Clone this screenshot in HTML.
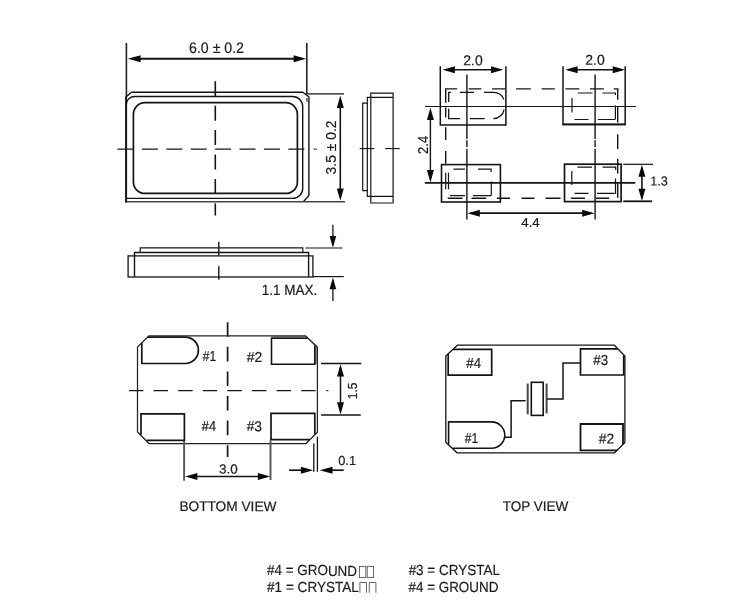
<!DOCTYPE html>
<html lang="en"><head><meta charset="utf-8"><title>Crystal package outline drawing</title>
<style>
html,body{margin:0;padding:0;background:#fff;}
body{width:749px;height:610px;overflow:hidden;}
svg{display:block;font-family:"Liberation Sans",sans-serif;filter:grayscale(1);}
</style></head>
<body>
<svg width="749" height="610" viewBox="0 0 749 610">
<rect x="0" y="0" width="749" height="610" fill="#ffffff"/>
<path d="M131.4,92.3 H302.7 L308.9,96.8 V195.4 L303.4,201.7" fill="none" stroke="#141414" stroke-width="1.4" stroke-linejoin="miter"/>
<line x1="125.2" y1="201.8" x2="345" y2="201.8" stroke="#444" stroke-width="1.5" stroke-linecap="butt"/>
<line x1="126.1" y1="96.2" x2="126.1" y2="202.4" stroke="#141414" stroke-width="2.0" stroke-linecap="butt"/>
<path d="M126.3,96.6 L131.4,92.3" fill="none" stroke="#141414" stroke-width="1.4" stroke-linejoin="miter"/>
<path d="M126.3,104 A8.4,7.5 0 0 1 134.7,96.5 H292.7 A10,10 0 0 1 302.7,106.5 V188.4 A10,10 0 0 1 292.7,198.4 H126.3" fill="none" stroke="#141414" stroke-width="1.4" stroke-linejoin="miter"/>
<rect x="133.4" y="102.7" width="164" height="90.7" rx="11.5" ry="11.5" fill="none" stroke="#141414" stroke-width="1.7"/>
<rect x="306" y="98" width="2.2" height="3.6" fill="#777"/>
<line x1="117.5" y1="149.2" x2="304.5" y2="149.2" stroke="#141414" stroke-width="1.3" stroke-dasharray="16 8.4" stroke-dashoffset="0" stroke-linecap="butt"/>
<line x1="313.6" y1="149.2" x2="317" y2="149.2" stroke="#444" stroke-width="1.2" stroke-linecap="butt"/>
<line x1="215.3" y1="81.3" x2="215.3" y2="215.5" stroke="#141414" stroke-width="1.6" stroke-dasharray="15 9.4" stroke-dashoffset="0" stroke-linecap="butt"/>
<line x1="126.4" y1="43" x2="126.4" y2="96" stroke="#222" stroke-width="1.6" stroke-linecap="butt"/>
<line x1="306.8" y1="43" x2="306.8" y2="94" stroke="#222" stroke-width="1.6" stroke-linecap="butt"/>
<line x1="132" y1="58.8" x2="301" y2="58.8" stroke="#141414" stroke-width="1.9" stroke-linecap="butt"/>
<polygon points="127.8,58.7 140.6,55.2 140.6,62.2" fill="#0a0a0a"/>
<polygon points="306.2,58.7 293.6,62.2 293.6,55.2" fill="#0a0a0a"/>
<line x1="306.8" y1="93.8" x2="344" y2="93.8" stroke="#141414" stroke-width="1.3" stroke-linecap="butt"/>
<line x1="340.3" y1="100" x2="340.3" y2="197" stroke="#141414" stroke-width="1.6" stroke-linecap="butt"/>
<polygon points="340.3,95.6 343.8,107.9 336.8,107.9" fill="#0a0a0a"/>
<polygon points="340.3,200.8 336.8,188.5 343.8,188.5" fill="#0a0a0a"/>
<path d="M370.8,203 V93.1 H393.1 V203" fill="none" stroke="#141414" stroke-width="1.2" stroke-linejoin="miter"/>
<line x1="370.2" y1="203" x2="393.7" y2="203" stroke="#555" stroke-width="1.4" stroke-linecap="butt"/>
<path d="M393.1,97.4 H367.3 V196.3 H393.1" fill="none" stroke="#141414" stroke-width="1.2" stroke-linejoin="miter"/>
<path d="M367.3,103.1 H362.7 V190.7 H367.3" fill="none" stroke="#141414" stroke-width="1.2" stroke-linejoin="miter"/>
<line x1="359.7" y1="148.6" x2="374.4" y2="148.6" stroke="#141414" stroke-width="1.1" stroke-linecap="butt"/>
<line x1="385.1" y1="148.6" x2="399.8" y2="148.6" stroke="#141414" stroke-width="1.1" stroke-linecap="butt"/>
<path d="M440.3,66.2 V124.9 H505.9 V66.2" fill="none" stroke="#141414" stroke-width="1.5" stroke-linejoin="miter"/>
<path d="M563,66.2 V124.4 H625.2 V66.2" fill="none" stroke="#141414" stroke-width="1.5" stroke-linejoin="miter"/>
<line x1="562.3" y1="124.4" x2="625.9" y2="124.4" stroke="#141414" stroke-width="1.9" stroke-linecap="butt"/>
<rect x="441.5" y="164.6" width="58.9" height="37.4" fill="none" stroke="#141414" stroke-width="1.6"/>
<rect x="564.5" y="164.2" width="56.6" height="37.4" fill="none" stroke="#141414" stroke-width="1.7"/>
<line x1="446" y1="69.7" x2="500" y2="69.7" stroke="#141414" stroke-width="1.5" stroke-linecap="butt"/>
<polygon points="442.6,69.7 454.9,66.2 454.9,73.2" fill="#0a0a0a"/>
<polygon points="503.3,69.7 491.0,73.2 491.0,66.2" fill="#0a0a0a"/>
<line x1="568" y1="69.7" x2="622" y2="69.7" stroke="#141414" stroke-width="1.5" stroke-linecap="butt"/>
<polygon points="565.3,69.7 577.6,66.2 577.6,73.2" fill="#0a0a0a"/>
<polygon points="625,69.7 612.7,73.2 612.7,66.2" fill="#0a0a0a"/>
<path d="M466.9,74.4 V139.1 M466.9,140.3 V147.1 M466.9,148.7 V219.5" fill="none" stroke="#141414" stroke-width="1.4" stroke-linejoin="miter"/>
<path d="M595.1,74.4 V139.1 M595.1,140.3 V147.1 M595.1,148.7 V219.5" fill="none" stroke="#141414" stroke-width="1.4" stroke-linejoin="miter"/>
<line x1="425.1" y1="106.5" x2="635.9" y2="106.5" stroke="#141414" stroke-width="1.1" stroke-linecap="butt"/>
<line x1="424.8" y1="182.8" x2="635.3" y2="182.8" stroke="#141414" stroke-width="1.7" stroke-linecap="butt"/>
<line x1="430.4" y1="112" x2="430.4" y2="178" stroke="#141414" stroke-width="1.4" stroke-linecap="butt"/>
<polygon points="430.4,107.8 433.9,120.1 426.9,120.1" fill="#0a0a0a"/>
<polygon points="430.4,182.4 426.9,170.1 433.9,170.1" fill="#0a0a0a"/>
<line x1="471" y1="213.2" x2="591" y2="213.2" stroke="#141414" stroke-width="1.7" stroke-linecap="butt"/>
<polygon points="467.5,213.3 479.8,209.8 479.8,216.8" fill="#0a0a0a"/>
<polygon points="594.5,213.3 582.2,216.8 582.2,209.8" fill="#0a0a0a"/>
<line x1="623.2" y1="164.3" x2="653" y2="164.3" stroke="#141414" stroke-width="1.2" stroke-linecap="butt"/>
<line x1="623.2" y1="201.3" x2="652" y2="201.3" stroke="#141414" stroke-width="1.8" stroke-linecap="butt"/>
<line x1="641.9" y1="170" x2="641.9" y2="196" stroke="#141414" stroke-width="1.6" stroke-linecap="butt"/>
<polygon points="641.9,164.7 645.4,176.7 638.4,176.7" fill="#0a0a0a"/>
<polygon points="641.9,201.1 638.4,188.8 645.4,188.8" fill="#0a0a0a"/>
<path d="M445.1,88.9 H457.1 M468.7,88.9 H481.4 M492.1,88.9 H505.4 M516.1,88.9 H530.8 M541.6,88.9 H554.8 M565.4,88.9 H579.3 M590,88.9 H603.9 M613.8,88.9 H618.4" fill="none" stroke="#141414" stroke-width="1.4" stroke-linejoin="miter"/>
<path d="M445.7,88.9 V102.7 M445.7,107.6 V117.5 M445.7,127.3 V140.1 M445.7,150.9 V163.7" fill="none" stroke="#141414" stroke-width="1.4" stroke-linejoin="miter"/>
<path d="M617.7,88.9 V99.7 M617.7,106.6 V122.4 M617.7,134.2 V149 M617.7,158.8 V173.6 M617.7,182.7 V197.7" fill="none" stroke="#141414" stroke-width="1.4" stroke-linejoin="miter"/>
<path d="M447.7,198.2 H462.5 M471.5,198.2 H486.2 M496.9,198.2 H510 M521.5,198.2 H534.5 M545.6,198.2 H560.6 M570.8,198.2 H584.9 M596,198.2 H609.2" fill="none" stroke="#141414" stroke-width="1.4" stroke-linejoin="miter"/>
<path d="M448.7,92.4 V102 M448.7,108.7 V118.7" fill="none" stroke="#141414" stroke-width="1.3" stroke-linejoin="miter"/>
<path d="M448.1,92.4 H451 M459.8,92.4 H474" fill="none" stroke="#141414" stroke-width="1.3" stroke-linejoin="miter"/>
<path d="M484,92.4 H493.5 A11,11 0 0 1 503.9,99.6" fill="none" stroke="#141414" stroke-width="1.3" stroke-linejoin="miter"/>
<path d="M448.1,118.7 H460 M470,118.7 H484.7" fill="none" stroke="#141414" stroke-width="1.3" stroke-linejoin="miter"/>
<path d="M493.4,118.7 A11,11 0 0 0 504.1,109.6" fill="none" stroke="#141414" stroke-width="1.3" stroke-linejoin="miter"/>
<path d="M572,98 V112.5 M574.5,119.5 H588.5 M598,119.5 H615 M615.4,119.5 V105.5 M615.4,95 V93 H602.5 M592.5,93 H577.7" fill="none" stroke="#141414" stroke-width="1.2" stroke-linejoin="miter"/>
<path d="M453.5,169.2 H465 M478,169.2 H491.1 V172 M491.3,181.6 V195.7 M445.7,172.8 V189.2 M448.5,172.8 V189.2 M450,195.7 H465 M473,195.7 H491" fill="none" stroke="#141414" stroke-width="1.2" stroke-linejoin="miter"/>
<path d="M577.5,167.1 H592 M602.5,167.1 H615.7 V170 M571.8,171 V185 M615.5,178.5 V194 M574.5,193.3 H588.5 M597,193.3 H614.5" fill="none" stroke="#141414" stroke-width="1.2" stroke-linejoin="miter"/>
<path d="M140.2,252.5 V247.9 H302.8 V252.5" fill="none" stroke="#141414" stroke-width="1.2" stroke-linejoin="miter"/>
<path d="M134.5,277 V252.5 H308.6 V277" fill="none" stroke="#141414" stroke-width="1.4" stroke-linejoin="miter"/>
<rect x="128.1" y="255.9" width="184.8" height="21.1" fill="none" stroke="#141414" stroke-width="1.3"/>
<line x1="218.8" y1="241.8" x2="218.8" y2="255.4" stroke="#141414" stroke-width="1.4" stroke-linecap="butt"/>
<line x1="218.8" y1="266.3" x2="218.8" y2="279.8" stroke="#141414" stroke-width="1.4" stroke-linecap="butt"/>
<line x1="305.4" y1="248" x2="342.5" y2="248" stroke="#141414" stroke-width="1.2" stroke-linecap="butt"/>
<line x1="312.9" y1="276.6" x2="343.8" y2="276.6" stroke="#141414" stroke-width="1.2" stroke-linecap="butt"/>
<line x1="332.9" y1="224.8" x2="332.9" y2="240" stroke="#141414" stroke-width="1.3" stroke-linecap="butt"/>
<polygon points="332.9,247.7 329.55,235.9 336.25,235.9" fill="#0a0a0a"/>
<line x1="332.9" y1="300.9" x2="332.9" y2="286" stroke="#141414" stroke-width="1.3" stroke-linecap="butt"/>
<polygon points="332.9,277.4 336.25,289.2 329.55,289.2" fill="#0a0a0a"/>
<path d="M271.4,336 H306 L317,346.8 V364 H315 V346.5 L307,338.4 H271.4 Z" fill="#9a9a9a"/>
<path d="M149,335.8 H305.6 L317.4,347 V432.2 L305.9,443.5 H149 L137.5,431.9 V347 Z" fill="none" stroke="#222" stroke-width="1.25" stroke-linejoin="miter"/>
<path d="M147.6,337.1 H185.2 A13.2,13.2 0 0 1 185.2,363.5 H141.8 V342.8" fill="none" stroke="#141414" stroke-width="1.7" stroke-linejoin="miter"/>
<path d="M307.5,338.3 H271.5 V364.2 H314.8 V345.5" fill="none" stroke="#141414" stroke-width="1.6" stroke-linejoin="miter"/>
<path d="M141,434.8 V413.9 H184.4 V440.3 H146.6" fill="none" stroke="#141414" stroke-width="1.7" stroke-linejoin="miter"/>
<path d="M314.8,434.6 V413.4 H271 V439.7 H309.6" fill="none" stroke="#141414" stroke-width="1.7" stroke-linejoin="miter"/>
<line x1="129" y1="390.6" x2="317.4" y2="390.6" stroke="#141414" stroke-width="1.3" stroke-dasharray="14.4 10.2" stroke-dashoffset="0" stroke-linecap="butt"/>
<line x1="325.8" y1="390.6" x2="328.4" y2="390.6" stroke="#444" stroke-width="1.2" stroke-linecap="butt"/>
<line x1="227.6" y1="322.2" x2="227.6" y2="457" stroke="#141414" stroke-width="1.7" stroke-dasharray="14.6 10" stroke-dashoffset="0" stroke-linecap="butt"/>
<line x1="321.1" y1="363.5" x2="361.2" y2="363.5" stroke="#141414" stroke-width="1.4" stroke-linecap="butt"/>
<line x1="321.1" y1="415" x2="360.7" y2="415" stroke="#141414" stroke-width="1.3" stroke-linecap="butt"/>
<line x1="340.5" y1="368" x2="340.5" y2="410" stroke="#141414" stroke-width="1.5" stroke-linecap="butt"/>
<polygon points="340.5,364.2 344.0,376.5 337.0,376.5" fill="#0a0a0a"/>
<polygon points="340.5,414.5 337.0,402.2 344.0,402.2" fill="#0a0a0a"/>
<line x1="184.1" y1="441" x2="184.1" y2="480.7" stroke="#555" stroke-width="1.9" stroke-linecap="butt"/>
<line x1="270.5" y1="440.2" x2="270.5" y2="480" stroke="#555" stroke-width="1.9" stroke-linecap="butt"/>
<line x1="189" y1="476.4" x2="266" y2="476.4" stroke="#141414" stroke-width="1.5" stroke-linecap="butt"/>
<polygon points="185.1,476.5 197.4,473.0 197.4,480.0" fill="#0a0a0a"/>
<polygon points="270.2,476.5 257.9,480.0 257.9,473.0" fill="#0a0a0a"/>
<line x1="313.8" y1="443.5" x2="313.8" y2="471.8" stroke="#141414" stroke-width="1.3" stroke-linecap="butt"/>
<line x1="317.4" y1="436.7" x2="317.4" y2="471.8" stroke="#141414" stroke-width="1.3" stroke-linecap="butt"/>
<line x1="289.1" y1="470.2" x2="302" y2="470.2" stroke="#141414" stroke-width="1.7" stroke-linecap="butt"/>
<polygon points="313.2,470.2 300.9,473.7 300.9,466.7" fill="#0a0a0a"/>
<line x1="330" y1="470.2" x2="343.7" y2="470.2" stroke="#141414" stroke-width="1.7" stroke-linecap="butt"/>
<polygon points="319.6,470.2 332.5,466.7 332.5,473.7" fill="#0a0a0a"/>
<path d="M457.4,345.2 H614.3 L624.9,356 V442.4 L614.6,452.8 H457 L445.8,442.1 V356 Z" fill="none" stroke="#141414" stroke-width="1.3" stroke-linejoin="miter"/>
<path d="M453,349.3 H491.7 V375.2 H448.2 V353.8" fill="none" stroke="#141414" stroke-width="1.7" stroke-linejoin="miter"/>
<path d="M448.6,444.5 V421.9 H491.6 A13.2,13.2 0 0 1 491.6,448.3 H452.6" fill="none" stroke="#141414" stroke-width="1.6" stroke-linejoin="miter"/>
<path d="M617.6,348.9 H580.5 V375 H623.7 V355.3" fill="none" stroke="#141414" stroke-width="1.7" stroke-linejoin="miter"/>
<path d="M623,444.3 V424 H580.5 V450.3 H617" fill="none" stroke="#141414" stroke-width="1.8" stroke-linejoin="miter"/>
<path d="M504.7,437.3 H511.1 V400.7 H525.6" fill="none" stroke="#141414" stroke-width="1.5" stroke-linejoin="miter"/>
<path d="M546.6,399 H563 V363.1 H580.5" fill="none" stroke="#141414" stroke-width="1.5" stroke-linejoin="miter"/>
<line x1="527.7" y1="383.6" x2="527.7" y2="414.3" stroke="#444" stroke-width="2.0" stroke-linecap="butt"/>
<line x1="546.6" y1="383.6" x2="546.6" y2="413.5" stroke="#444" stroke-width="2.0" stroke-linecap="butt"/>
<rect x="531.3" y="382.3" width="11.9" height="33.1" fill="none" stroke="#141414" stroke-width="1.6"/>
<rect x="359.4" y="566.4" width="6.4" height="11" fill="none" stroke="#555" stroke-width="0.9"/>
<rect x="367.2" y="566.4" width="6.4" height="11" fill="none" stroke="#555" stroke-width="0.9"/>
<path d="M359.9,592.7 V582.5 H366.5 V592.7" fill="none" stroke="#555" stroke-width="0.9"/>
<path d="M369.3,592.7 V582.5 H375.90000000000003 V592.7" fill="none" stroke="#555" stroke-width="0.9"/>
<text x="189.05" y="53.07" font-size="15.2" text-anchor="start" fill="#1c1c1c" stroke="#1c1c1c" stroke-width="0.2" textLength="54.92" lengthAdjust="spacingAndGlyphs" transform="rotate(0.03 189.05 53.07)">6.0 ± 0.2</text>
<text x="336.19" y="174.39" font-size="15.2" text-anchor="start" fill="#1c1c1c" stroke="#1c1c1c" stroke-width="0.2" textLength="53.86" lengthAdjust="spacingAndGlyphs" transform="rotate(-90 336.19 174.39)">3.5 ± 0.2</text>
<text x="463.29" y="65.29" font-size="14.2" text-anchor="start" fill="#1c1c1c" stroke="#1c1c1c" stroke-width="0.2" textLength="19.43" lengthAdjust="spacingAndGlyphs" transform="rotate(0.03 463.29 65.29)">2.0</text>
<text x="585.26" y="64.68" font-size="14.2" text-anchor="start" fill="#1c1c1c" stroke="#1c1c1c" stroke-width="0.2" textLength="19.41" lengthAdjust="spacingAndGlyphs" transform="rotate(0.03 585.26 64.68)">2.0</text>
<text x="427.57" y="153.92" font-size="14.2" text-anchor="start" fill="#1c1c1c" stroke="#1c1c1c" stroke-width="0.2" textLength="18.11" lengthAdjust="spacingAndGlyphs" transform="rotate(-90 427.57 153.92)">2.4</text>
<text x="521.27" y="226.94" font-size="13.1" text-anchor="start" fill="#1c1c1c" stroke="#1c1c1c" stroke-width="0.2" textLength="18.51" lengthAdjust="spacingAndGlyphs" transform="rotate(0.03 521.27 226.94)">4.4</text>
<text x="650.21" y="185.53" font-size="13.1" text-anchor="start" fill="#1c1c1c" stroke="#1c1c1c" stroke-width="0.2" textLength="17.61" lengthAdjust="spacingAndGlyphs" transform="rotate(0.03 650.21 185.53)">1.3</text>
<text x="261.67" y="294.75" font-size="14.9" text-anchor="start" fill="#1c1c1c" stroke="#1c1c1c" stroke-width="0.2" textLength="55.51" lengthAdjust="spacingAndGlyphs" transform="rotate(0.03 261.67 294.75)">1.1 MAX.</text>
<text x="357.29" y="399.26" font-size="13.6" text-anchor="start" fill="#1c1c1c" stroke="#1c1c1c" stroke-width="0.2" textLength="16.69" lengthAdjust="spacingAndGlyphs" transform="rotate(-90 357.29 399.26)">1.5</text>
<text x="219.01" y="473.54" font-size="13.1" text-anchor="start" fill="#1c1c1c" stroke="#1c1c1c" stroke-width="0.2" textLength="18.75" lengthAdjust="spacingAndGlyphs" transform="rotate(0.03 219.01 473.54)">3.0</text>
<text x="338.23" y="465.1" font-size="13.1" text-anchor="start" fill="#1c1c1c" stroke="#1c1c1c" stroke-width="0.2" textLength="17.77" lengthAdjust="spacingAndGlyphs" transform="rotate(0.03 338.23 465.1)">0.1</text>
<text x="202.76" y="361.43" font-size="14.4" text-anchor="start" fill="#1c1c1c" stroke="#1c1c1c" stroke-width="0.2" textLength="13.34" lengthAdjust="spacingAndGlyphs" transform="rotate(0.03 202.76 361.43)">#1</text>
<text x="246.74" y="362.09" font-size="14.4" text-anchor="start" fill="#1c1c1c" stroke="#1c1c1c" stroke-width="0.2" textLength="15.69" lengthAdjust="spacingAndGlyphs" transform="rotate(0.03 246.74 362.09)">#2</text>
<text x="201.74" y="431.14" font-size="14.4" text-anchor="start" fill="#1c1c1c" stroke="#1c1c1c" stroke-width="0.2" textLength="14.31" lengthAdjust="spacingAndGlyphs" transform="rotate(0.03 201.74 431.14)">#4</text>
<text x="246.71" y="431.13" font-size="14.4" text-anchor="start" fill="#1c1c1c" stroke="#1c1c1c" stroke-width="0.2" textLength="15.34" lengthAdjust="spacingAndGlyphs" transform="rotate(0.03 246.71 431.13)">#3</text>
<text x="466.3" y="368.1" font-size="14.5" text-anchor="start" fill="#1c1c1c" stroke="#1c1c1c" stroke-width="0.2" textLength="14.79" lengthAdjust="spacingAndGlyphs" transform="rotate(0.03 466.3 368.1)">#4</text>
<text x="464.73" y="442.83" font-size="14.1" text-anchor="start" fill="#1c1c1c" stroke="#1c1c1c" stroke-width="0.2" textLength="13.51" lengthAdjust="spacingAndGlyphs" transform="rotate(0.03 464.73 442.83)">#1</text>
<text x="593.25" y="364.59" font-size="14.5" text-anchor="start" fill="#1c1c1c" stroke="#1c1c1c" stroke-width="0.2" textLength="14.78" lengthAdjust="spacingAndGlyphs" transform="rotate(0.03 593.25 364.59)">#3</text>
<text x="598.86" y="443.61" font-size="14.1" text-anchor="start" fill="#1c1c1c" stroke="#1c1c1c" stroke-width="0.2" textLength="15.36" lengthAdjust="spacingAndGlyphs" transform="rotate(0.03 598.86 443.61)">#2</text>
<text x="179.39" y="511.1" font-size="13.9" text-anchor="start" fill="#1c1c1c" stroke="#1c1c1c" stroke-width="0.2" textLength="97.05" lengthAdjust="spacingAndGlyphs" transform="rotate(0.03 179.39 511.1)">BOTTOM VIEW</text>
<text x="502.65" y="511.08" font-size="13.9" text-anchor="start" fill="#1c1c1c" stroke="#1c1c1c" stroke-width="0.2" textLength="65.66" lengthAdjust="spacingAndGlyphs" transform="rotate(0.03 502.65 511.08)">TOP VIEW</text>
<text x="267.09" y="575.48" font-size="14.6" text-anchor="start" fill="#1c1c1c" stroke="#1c1c1c" stroke-width="0.2" textLength="89.92" lengthAdjust="spacingAndGlyphs" transform="rotate(0.03 267.09 575.48)">#4 = GROUND</text>
<text x="267.08" y="592.22" font-size="14.6" text-anchor="start" fill="#1c1c1c" stroke="#1c1c1c" stroke-width="0.2" textLength="91.76" lengthAdjust="spacingAndGlyphs" transform="rotate(0.03 267.08 592.22)">#1 = CRYSTAL</text>
<text x="408.63" y="575.46" font-size="14.6" text-anchor="start" fill="#1c1c1c" stroke="#1c1c1c" stroke-width="0.2" textLength="91.25" lengthAdjust="spacingAndGlyphs" transform="rotate(0.03 408.63 575.46)">#3 = CRYSTAL</text>
<text x="408.61" y="591.79" font-size="14.6" text-anchor="start" fill="#1c1c1c" stroke="#1c1c1c" stroke-width="0.2" textLength="89.7" lengthAdjust="spacingAndGlyphs" transform="rotate(0.03 408.61 591.79)">#4 = GROUND</text>
</svg>
</body></html>
